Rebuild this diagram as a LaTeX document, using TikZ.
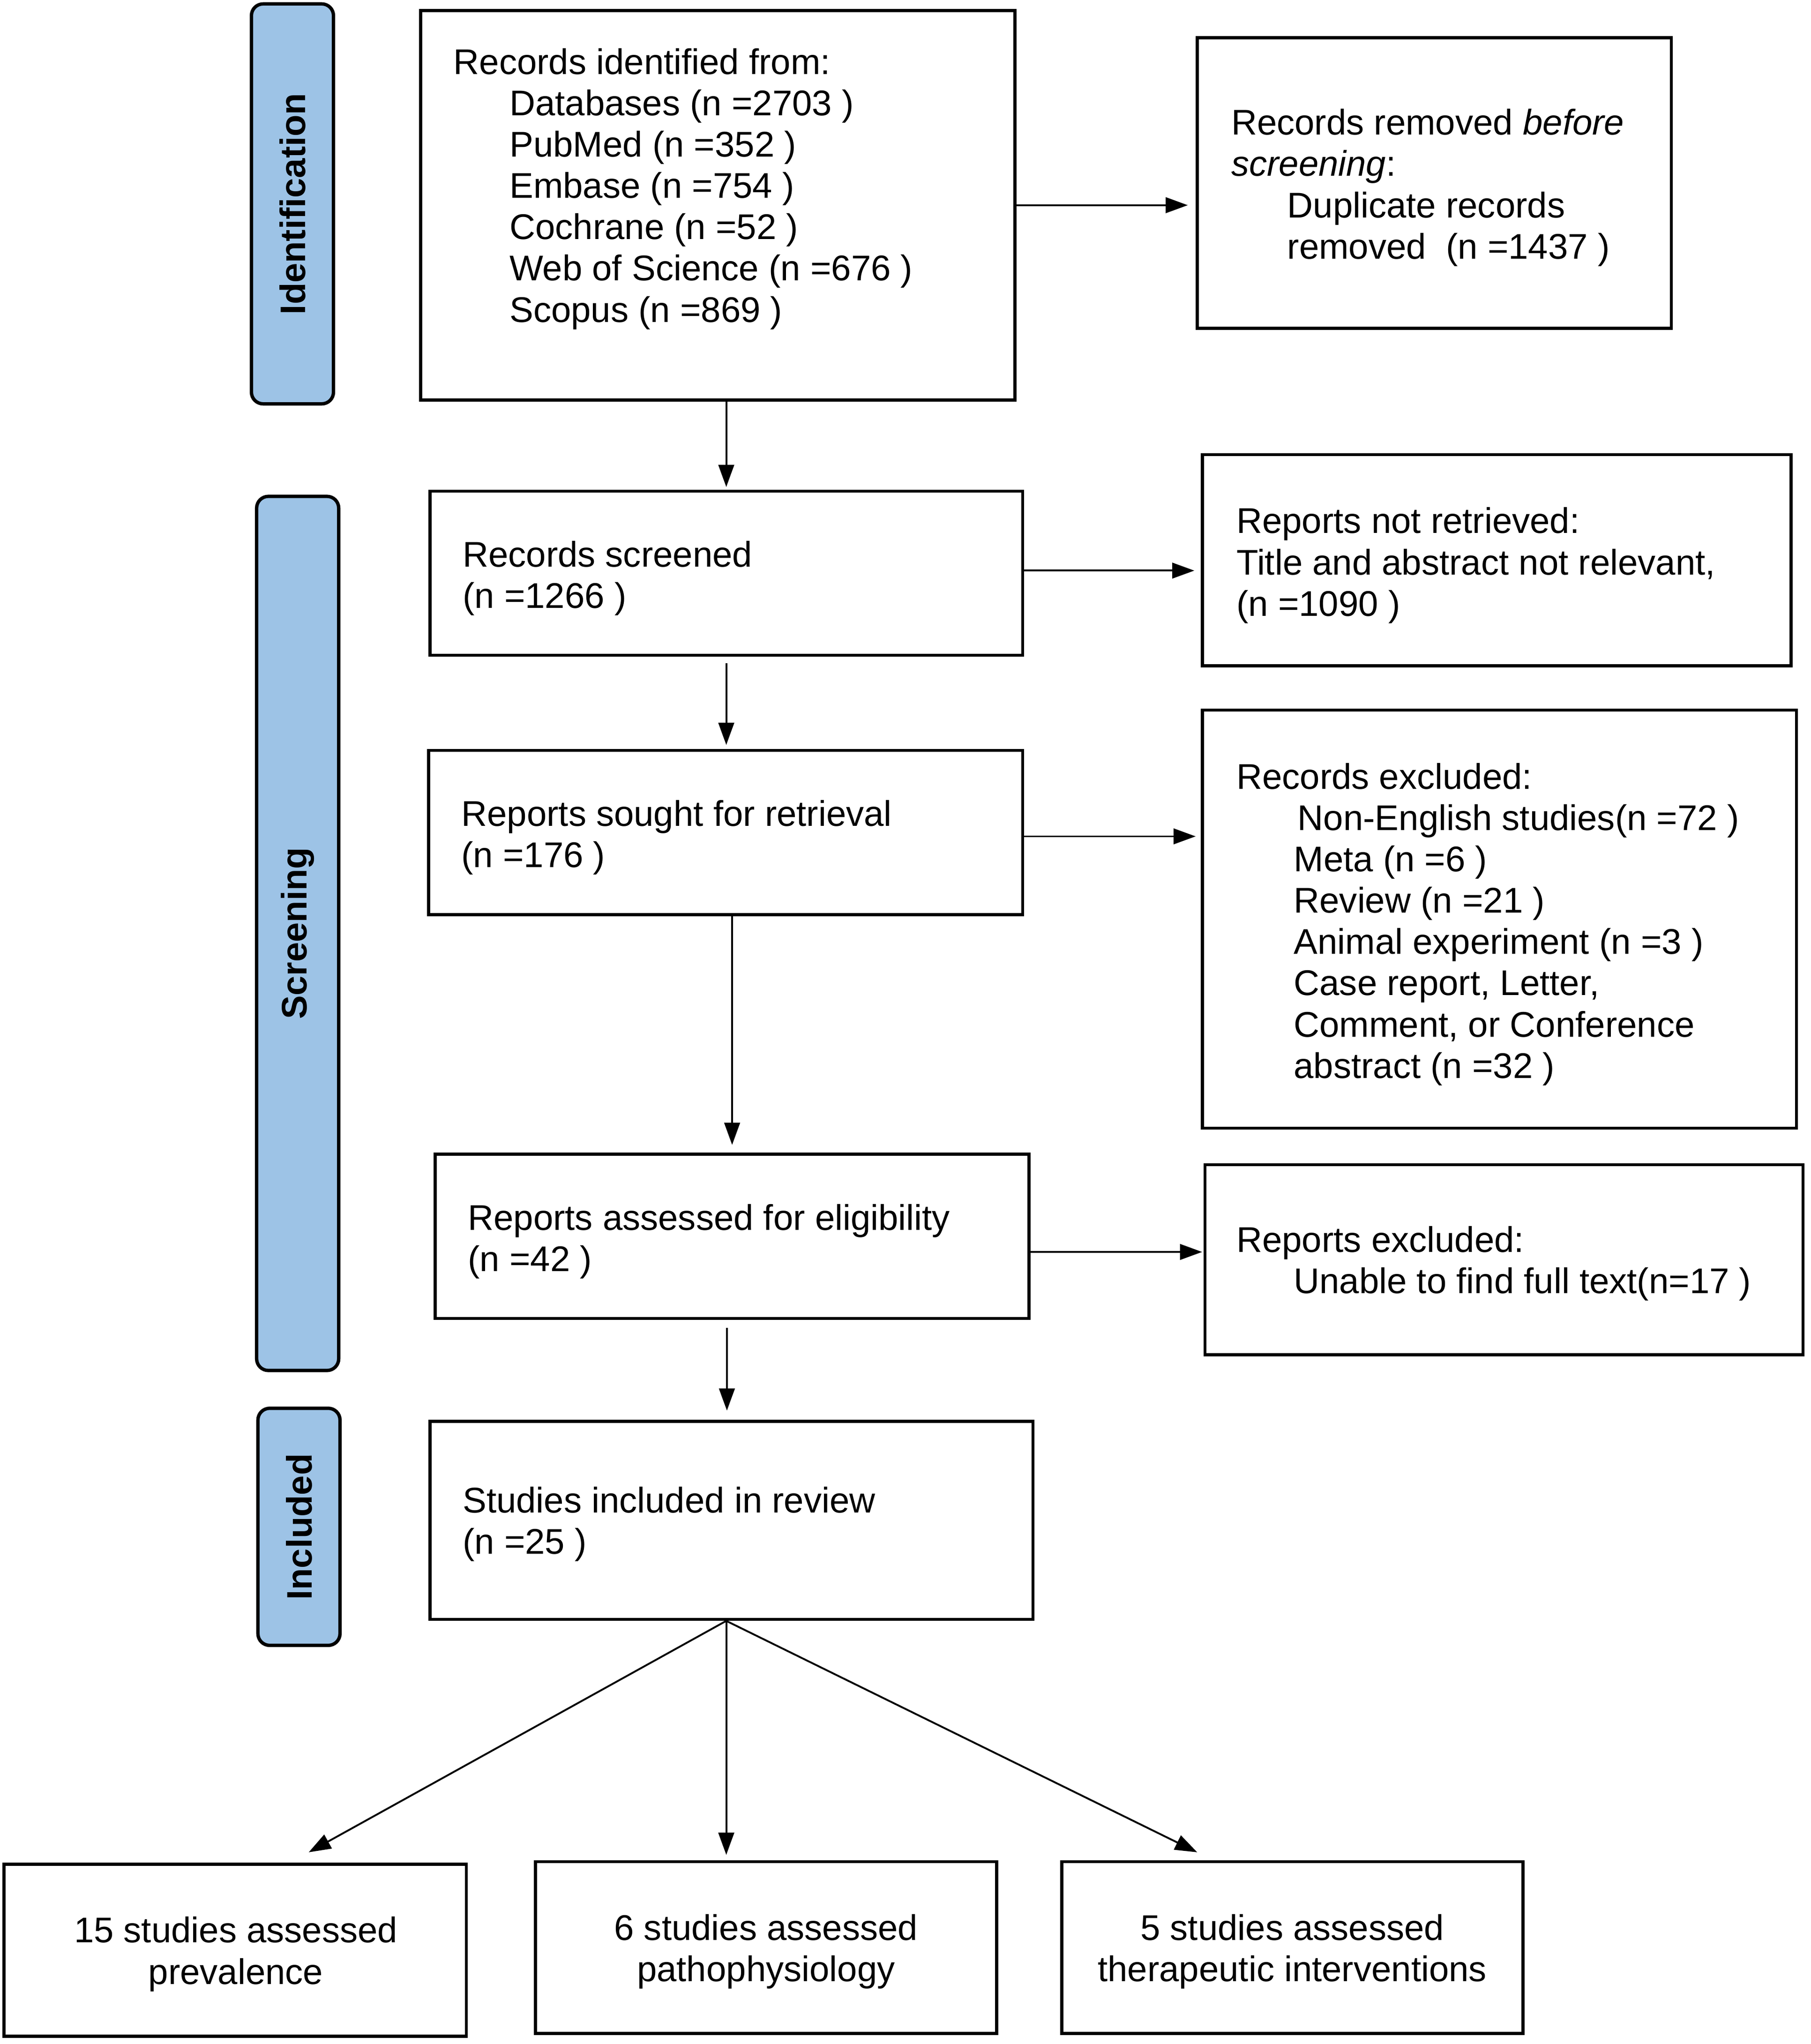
\documentclass[tikz,border=0pt]{standalone}
\usepackage{fontspec}
\setmainfont{Liberation Sans}
\usetikzlibrary{arrows.meta}
\definecolor{bandblue}{HTML}{9DC3E6}
\begin{document}
\begin{tikzpicture}[x=1pt,y=1pt,
  box/.style={draw=black, line width=2.4pt, fill=white, inner sep=0pt},
  band/.style={draw=black, line width=2.6pt, fill=bandblue, rounded corners=9pt, inner sep=0pt, rotate=90, minimum height=63pt, font=\fontsize{27.3}{32}\selectfont\bfseries},
  txt/.style={align=left, inner sep=0pt, anchor=west, font=\fontsize{27.4}{31.7}\selectfont},
  ctxt/.style={align=center, inner sep=0pt, font=\fontsize{27.4}{31.7}\selectfont},
  arr/.style={line width=1.4pt, -{Triangle[length=17pt,width=12pt]}}
]
\useasboundingbox (0,0) rectangle (1390,-1569);

% phase bands
\node[band, minimum width=307pt] (idb) at (224.5,-156.5) {Identification};
\node[band, minimum width=671pt] (scb) at (228.5,-716.5) {Screening};
\node[band, minimum width=182pt] (inb) at (229.5,-1172) {Included};

% boxes
\node[box, minimum width=456pt, minimum height=299pt] (b1) at (551,-157.5) {};
\node[box, minimum width=364pt, minimum height=223pt] (rem) at (1101,-140.5) {};
\node[box, minimum width=455pt, minimum height=126pt] (scr) at (557.5,-440) {};
\node[box, minimum width=452pt, minimum height=162pt] (nr) at (1149,-430) {};
\node[box, minimum width=456pt, minimum height=126pt] (so) at (557,-639) {};
\node[box, minimum width=456pt, minimum height=321pt] (ex) at (1151,-705.5) {};
\node[box, minimum width=456pt, minimum height=126pt] (as) at (562,-949) {};
\node[box, minimum width=459pt, minimum height=146pt] (rx) at (1154.5,-967) {};
\node[box, minimum width=463pt, minimum height=152pt] (si) at (561.5,-1167) {};
\node[box, minimum width=355pt, minimum height=132pt] (p1) at (180.5,-1497) {};
\node[box, minimum width=354pt, minimum height=132pt] (p2) at (588,-1495) {};
\node[box, minimum width=354pt, minimum height=132pt] (p3) at (992,-1495) {};

% texts
\node[txt] (t1) at (348,-145) {Records identified from:\\
\hspace*{43pt}Databases (n =2703 )\\
\hspace*{43pt}PubMed (n =352 )\\
\hspace*{43pt}Embase (n =754 )\\
\hspace*{43pt}Cochrane (n =52 )\\
\hspace*{43pt}Web of Science (n =676 )\\
\hspace*{43pt}Scopus (n =869 )};
\node[txt] (trem) at (945,-144) {Records removed \textit{before}\\
\textit{screening}:\\
\hspace*{43pt}Duplicate records\\
\hspace*{43pt}removed\ \ (n =1437 )};
\node[txt] (tscr) at (355,-444) {Records screened\\(n =1266 )};
\node[txt] (tnr) at (949,-434) {Reports not retrieved:\\
Title and abstract not relevant,\\
(n =1090 )};
\node[txt] (tso) at (354,-643) {Reports sought for retrieval\\(n =176 )};
\node[txt] (tex) at (949,-709.5) {Records excluded:\\
\hspace*{47pt}Non-English studies(n =72 )\\
\hspace*{44pt}Meta (n =6 )\\
\hspace*{44pt}Review (n =21 )\\
\hspace*{44pt}Animal experiment (n =3 )\\
\hspace*{44pt}Case report, Letter,\\
\hspace*{44pt}Comment, or Conference\\
\hspace*{44pt}abstract (n =32 )};
\node[txt] (tas) at (359,-953) {Reports assessed for eligibility\\(n =42 )};
\node[txt] (trx) at (949,-970) {Reports excluded:\\
\hspace*{44pt}Unable to find full text(n=17 )};
\node[txt] (tsi) at (355,-1170) {Studies included in review\\(n =25 )};
\node[ctxt] (tp1) at (181,-1500) {15 studies assessed\\prevalence};
\node[ctxt] (tp2) at (588,-1498) {6 studies assessed\\pathophysiology};
\node[ctxt] (tp3) at (992,-1498) {5 studies assessed\\therapeutic interventions};

% horizontal connectors
\draw[arr, shorten >=6pt] (b1.east) -- (b1.east -| rem.west);
\draw[arr, shorten >=5pt] ([yshift=2pt]scr.east) -- ([yshift=2pt]scr.east -| nr.west);
\draw[arr, shorten >=4pt] ([yshift=-3pt]so.east) -- ([yshift=-3pt]so.east -| ex.west);
\draw[arr, shorten >=1pt] ([yshift=-12pt]as.east) -- ([yshift=-12pt]as.east -| rx.west);

% vertical connectors
\draw[arr, shorten >=2pt] (b1.south -| scr.north) -- (scr.north);
\draw[arr, shorten <=5pt, shorten >=3pt] (scr.south) -- (scr.south |- so.north);
\draw[arr, shorten >=6pt] (so.south -| as.north) -- (as.north);
\draw[arr, shorten <=6pt, shorten >=7pt] ([xshift=-3.5pt]as.south -| si.north) -- ([xshift=-3.5pt]si.north);

% fan-out to the three groups
\coordinate (sp) at ([xshift=-4pt]si.south);
\draw[arr] (sp) -- ([xshift=56.5pt,yshift=8pt]p1.north);
\draw[arr] (sp) -- ([xshift=-30.5pt,yshift=4pt]p2.north);
\draw[arr] (sp) -- ([xshift=-73pt,yshift=6pt]p3.north);
\end{tikzpicture}
\end{document}
